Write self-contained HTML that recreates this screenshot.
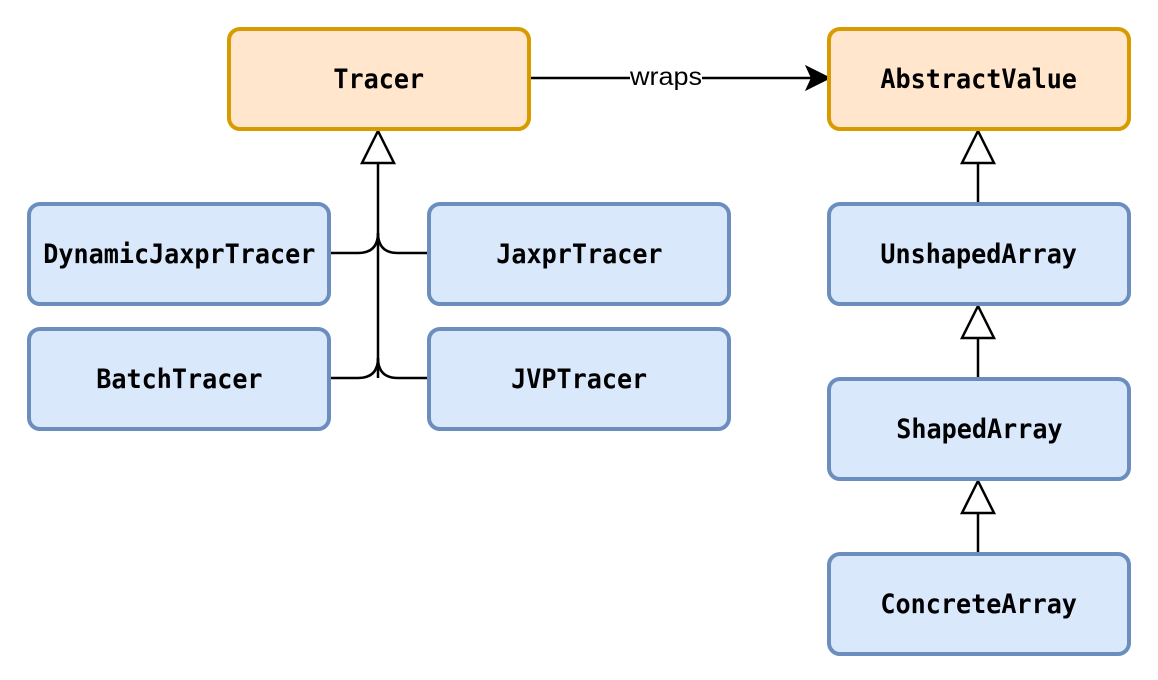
<!DOCTYPE html>
<html><head><meta charset="utf-8"><style>
html,body{margin:0;padding:0;background:#fff;}
body{width:1158px;height:680px;position:relative;overflow:hidden;}
.b{position:absolute;width:296px;height:96px;border:4px solid #6c8ebf;background:#dae8fc;border-radius:13px;display:flex;align-items:center;justify-content:center;font-family:"DejaVu Sans Mono","Liberation Mono",monospace;font-weight:bold;font-size:27px;color:#000;box-sizing:content-box;}
.b span{display:inline-block;transform:scaleX(0.93);white-space:nowrap;}
.o{border-color:#d79b00;background:#ffe6cc;}
svg{position:absolute;left:0;top:0;}
</style></head><body>
<svg width="1158" height="680">
<g fill="none" stroke="#000" stroke-width="2.5">
<path d="M378 163 V378"/>
<path d="M331 253 H358 Q378 253 378 233"/>
<path d="M427 253 H398 Q378 253 378 233"/>
<path d="M331 378 H358 Q378 378 378 358"/>
<path d="M427 378 H398 Q378 378 378 358"/>
<path d="M978 163 V204"/>
<path d="M978 338 V379"/>
<path d="M978 513 V554"/>
<path d="M531 78 H812"/>
</g>
<g fill="#fff" stroke="#000" stroke-width="2.5">
<polygon points="378,131 362,163 394,163"/>
<polygon points="978,131 962,163 994,163"/>
<polygon points="978,306 962,338 994,338"/>
<polygon points="978,481 962,513 994,513"/>
</g>
<polygon points="829,78 807,67 812,78 807,89" fill="#000" stroke="#000" stroke-width="2"/>
<rect x="630" y="64" width="72" height="26" fill="#fff"/>
<text x="666" y="85" font-family="Liberation Sans,sans-serif" font-size="25" text-anchor="middle" textLength="72" lengthAdjust="spacingAndGlyphs">wraps</text>
</svg>
<div class="b o" style="left:227px;top:27px"><span>Tracer</span></div>
<div class="b o" style="left:827px;top:27px"><span>AbstractValue</span></div>
<div class="b" style="left:27px;top:202px"><span>DynamicJaxprTracer</span></div>
<div class="b" style="left:427px;top:202px"><span>JaxprTracer</span></div>
<div class="b" style="left:27px;top:327px"><span>BatchTracer</span></div>
<div class="b" style="left:427px;top:327px"><span>JVPTracer</span></div>
<div class="b" style="left:827px;top:202px"><span>UnshapedArray</span></div>
<div class="b" style="left:827px;top:377px"><span>ShapedArray</span></div>
<div class="b" style="left:827px;top:552px"><span>ConcreteArray</span></div>
</body></html>
